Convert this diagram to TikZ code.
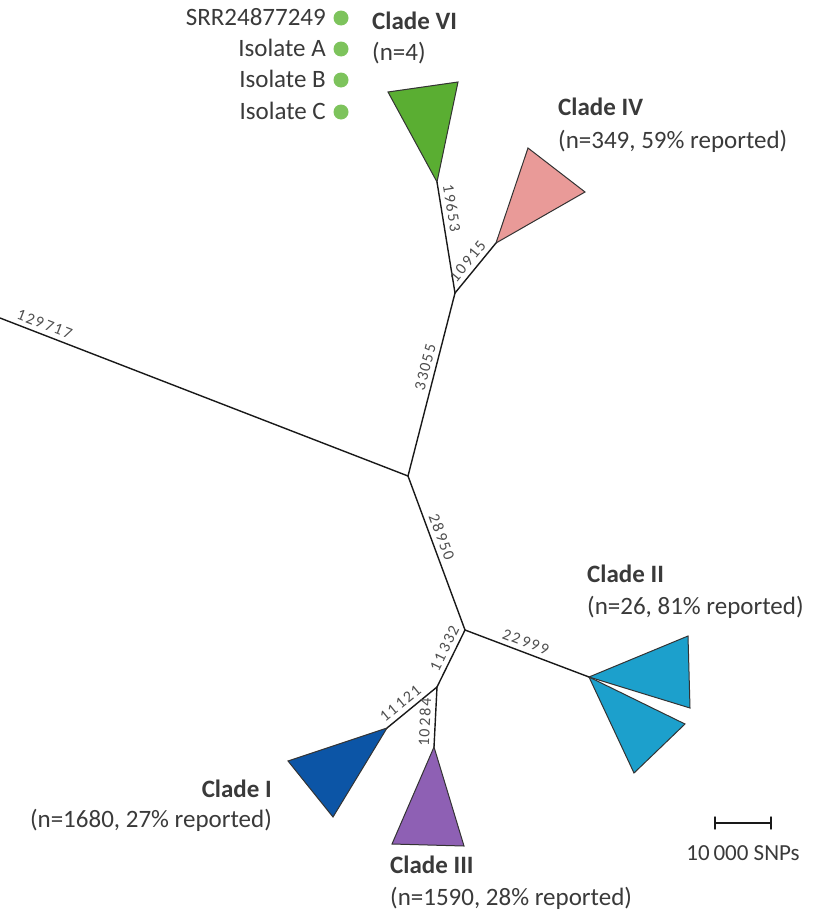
\documentclass[tikz,border=0pt]{standalone}
\usepackage{fontspec}
\setmainfont{Carlito}
\newfontfamily\branchfont[LetterSpace=10]{Carlito}
\usepackage{xcolor}
\usepackage{tikz}

\definecolor{ink}{HTML}{3A3A3A}
\definecolor{cVI}{HTML}{5AAE32}
\definecolor{cIV}{HTML}{E99A98}
\definecolor{cII}{HTML}{1CA0CC}
\definecolor{cI}{HTML}{0C55A6}
\definecolor{cIII}{HTML}{8E60B4}
\definecolor{isogreen}{HTML}{7DC35C}

\begin{document}
\begin{tikzpicture}[
    x=1pt, y=-1pt,
    every node/.style={text=ink, inner sep=0pt, text height=0.72em, text depth=0.2em},
    lab/.style={font=\fontsize{25}{28}\selectfont, yshift=-5pt},
    hd/.style={font=\fontsize{25}{28}\selectfont\bfseries, yshift=-5pt},
    br/.style={line width=1.4pt, black!90, line cap=round},
    blab/.style={font=\fontsize{16}{18}\branchfont, text=ink!90, sloped, inner sep=2.5pt},
    clade/.style={fill=#1, draw=black!80, line width=1pt},
  ]
  \useasboundingbox (0,0) rectangle (836,918);

  % -- junctions and clade tips --
  \coordinate (far)  at (0,318);
  \coordinate (root) at (408,476);
  \coordinate (up)   at (455,293);
  \coordinate (low)  at (465,630);
  \coordinate (mid)  at (437,687);
  \coordinate (tVI)  at (437,182);
  \coordinate (tIV)  at (496,243);
  \coordinate (tII)  at (589,677);
  \coordinate (tI)   at (387,728);
  \coordinate (tIII) at (434,747);

  % -- collapsed clades --
  \filldraw[clade=cVI]  (tVI)  -- (388,92)  -- (458,82)  -- cycle;
  \filldraw[clade=cIV]  (tIV)  -- (528,148) -- (585,192) -- cycle;
  \filldraw[clade=cII]  (tII)  -- (688,636) -- (690,708) -- cycle;
  \filldraw[clade=cII]  (tII)  -- (685,724) -- (634,773) -- cycle;
  \filldraw[clade=cI]   (tI)   -- (288,761) -- (333,817) -- cycle;
  \filldraw[clade=cIII] (tIII) -- (392,844) -- (464,846) -- cycle;

  % -- branches, with their SNP counts --
  \draw[br] (far)  -- node[blab,above,pos=.1]  {129\,717} (root);
  \draw[br] (root) -- node[blab,above,pos=.58] {33055}    (up);
  \draw[br] (tVI)  -- node[blab,above,pos=.25] {19653}    (up);
  \draw[br] (up)   -- node[blab,above,pos=.5]  {10\,915}  (tIV);
  \draw[br] (root) -- node[blab,above,pos=.42] {28\,950}  (low);
  \draw[br] (low)  -- node[blab,above,pos=.46] {22\,999}  (tII);
  \draw[br] (mid)  -- node[blab,above,pos=.6]  {11\,332}  (low);
  \draw[br] (tI)   -- node[blab,above,pos=.4]  {11\,121}  (mid);
  \draw[br] (tIII) -- node[blab,above,pos=.4]  {10\,284}  (mid);

  % -- the four isolates of clade VI --
  \foreach \t/\yy in {SRR24877249/18, Isolate A/49, Isolate B/80, Isolate C/112}{%
    \fill[isogreen] (341,\yy) circle[radius=7.5];
    \node[lab,anchor=east] (iso\yy) at (326,\yy) {\t};}

  % -- clade labels --
  \node[hd,anchor=west]  (hVI)  at (372,22)  {Clade VI};
  \node[lab,anchor=west] (nVI)  at (372,53)  {(n=4)};
  \node[hd,anchor=west]  (hIV)  at (558,108) {Clade IV};
  \node[lab,anchor=west] (nIV)  at (558,141) {(n=349, 59\% reported)};
  \node[hd,anchor=west]  (hII)  at (587,575) {Clade II};
  \node[lab,anchor=west] (nII)  at (587,607) {(n=26, 81\% reported)};
  \node[hd,anchor=east]  (hI)   at (272,790) {Clade I};
  \node[lab,anchor=east] (nI)   at (272,820) {(n=1680, 27\% reported)};
  \node[hd,anchor=west]  (hIII) at (390,866) {Clade III};
  \node[lab,anchor=west] (nIII) at (390,898) {(n=1590, 28\% reported)};

  % -- scale bar --
  \coordinate (sa) at (715,823);
  \coordinate (sb) at (771,823);
  \draw[br] (sa) -- (sb);
  \draw[br] (sa) ++(0,-6) -- ++(0,12);
  \draw[br] (sb) ++(0,-6) -- ++(0,12);
  \node[lab,font=\fontsize{23}{26}\selectfont] (snp) at (743,853) {10\,000 SNPs};
\end{tikzpicture}
\end{document}
